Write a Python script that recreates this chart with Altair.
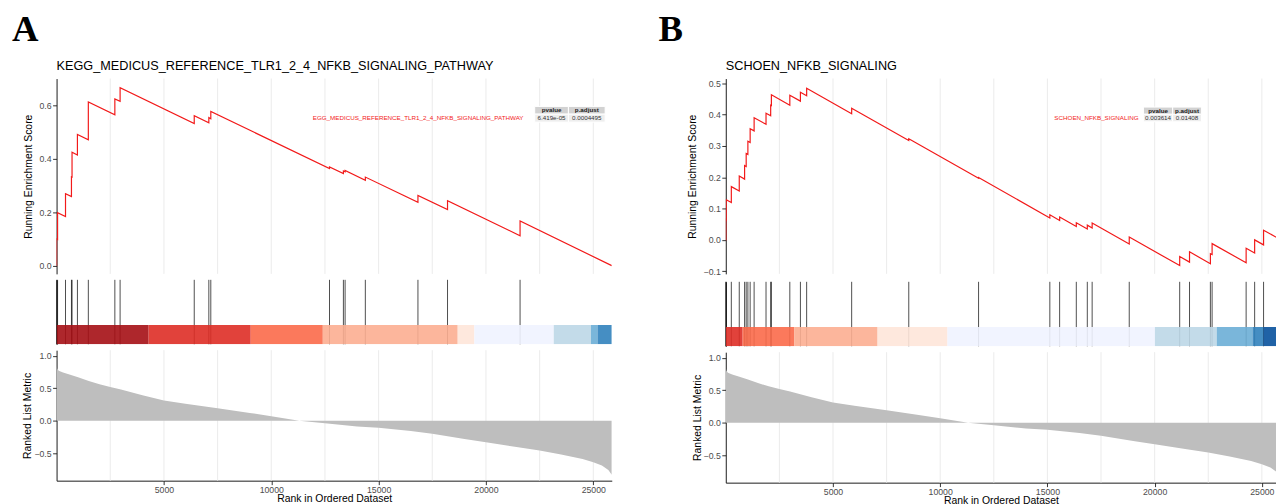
import altair as alt
import pandas as pd

FONT = "Liberation Sans"

# ---------------- shared data ----------------
N_GENES = 25860
X_MAX_A = 25860
X_MAX_B = 25660  # panel B is cut off at the right edge of the picture

grid_ranks = [2500, 5000, 7500, 10000, 12500, 15000, 17500, 20000, 22500, 25000]
rank_ticks = [5000, 10000, 15000, 20000, 25000]

# ranked list metric (same ordered gene list in both panels)
metric_rank = [1, 30, 100, 300, 600, 1000, 1500, 2000, 2500, 3000, 4000, 5000,
               6000, 7500, 9000, 10000, 11300, 12500, 14000, 15000, 16500, 17500,
               19000, 20000, 21500, 22500, 23500, 24500, 25000, 25400, 25700, 25860]
metric_value = [0.84, 0.80, 0.77, 0.74, 0.71, 0.67, 0.61, 0.56, 0.52, 0.48, 0.39, 0.31,
                0.26, 0.19, 0.12, 0.07, 0.0, -0.04, -0.09, -0.11, -0.16, -0.20,
                -0.28, -0.33, -0.41, -0.46, -0.52, -0.59, -0.64, -0.69, -0.76, -0.83]
metric_ticks = [-0.5, 0.0, 0.5, 1.0]

# ---------------- panel A ----------------
title_a = "KEGG_MEDICUS_REFERENCE_TLR1_2_4_NFKB_SIGNALING_PATHWAY"
label_a = "EGG_MEDICUS_REFERENCE_TLR1_2_4_NFKB_SIGNALING_PATHWAY"
pval_a = "6.419e-05"
padj_a = "0.0004495"
es_a_rank = [0, 1, 1, 46, 46, 416, 416, 693, 693, 720, 720, 971, 971, 1479, 1479,
             2714, 2714, 2959, 2959, 6412, 6412, 7092, 7092, 7184, 7184, 12713, 12713,
             13360, 13360, 13439, 13439, 14382, 14382, 16832, 16832, 18210, 18210,
             21589, 21589, 25860]
es_a_value = [0, 0, 0.100, 0.098, 0.198, 0.184, 0.270, 0.259, 0.333, 0.332, 0.425,
              0.415, 0.492, 0.472, 0.614, 0.566, 0.625, 0.616, 0.667, 0.533, 0.562,
              0.536, 0.555, 0.551, 0.578, 0.364, 0.370, 0.345, 0.355, 0.352, 0.357,
              0.320, 0.332, 0.237, 0.263, 0.210, 0.243, 0.112, 0.167, 0.0]
es_a_ticks = [0.0, 0.2, 0.4, 0.6]
hits_a = [1, 46, 416, 693, 720, 971, 1479, 2714, 2959, 6412, 7092, 7184, 12713,
          13360, 13439, 14382, 16832, 18210, 21589]
band_a_start = [0, 4286, 9043, 12400, 18683, 19459, 23158, 24892, 25197]
band_a_end = [4286, 9043, 12400, 18683, 19459, 23158, 24892, 25197, 25860]
band_a_color = ["#A50F15", "#DE2D26", "#FB6A4A", "#FCAE91", "#FEE5D9",
                "#EFF3FF", "#BDD7E7", "#6BAED6", "#3182BD"]

# ---------------- panel B ----------------
title_b = "SCHOEN_NFKB_SIGNALING"
label_b = "SCHOEN_NFKB_SIGNALING"
pval_b = "0.003614"
padj_b = "0.01408"
es_b_rank = [0, 5, 5, 20, 20, 259, 259, 629, 629, 878, 878, 952, 952, 1031, 1031,
             1137, 1137, 1322, 1322, 1877, 1877, 2094, 2094, 2127, 2127, 2987, 2987,
             3481, 3481, 3772, 3772, 5871, 5871, 8534, 8534, 11789, 11789, 15113, 15113,
             15570, 15570, 16347, 16347, 16860, 16860, 17086, 17086, 18816, 18816,
             21169, 21169, 21627, 21627, 22600, 22600, 22680, 22680, 24267, 24267,
             24664, 24664, 25080, 25080, 25860]
es_b_value = [0, 0, 0.065, 0.064, 0.128, 0.119, 0.170, 0.156, 0.204, 0.194, 0.237,
              0.234, 0.276, 0.273, 0.315, 0.311, 0.355, 0.348, 0.390, 0.369, 0.404,
              0.396, 0.430, 0.429, 0.463, 0.430, 0.462, 0.443, 0.471, 0.460, 0.484,
              0.403, 0.420, 0.317, 0.323, 0.197, 0.199, 0.070, 0.080, 0.062, 0.073,
              0.043, 0.055, 0.035, 0.047, 0.038, 0.054, -0.013, 0.009, -0.082, -0.053,
              -0.071, -0.038, -0.076, -0.044, -0.047, -0.012, -0.073, -0.027, -0.042,
              0.000, -0.016, 0.031, 0.001]
es_b_ticks = [-0.1, 0.0, 0.1, 0.2, 0.3, 0.4, 0.5]
hits_b = [5, 20, 259, 629, 878, 952, 1031, 1137, 1322, 1877, 2094, 2127, 2987, 3481,
          3772, 5871, 8534, 11789, 15113, 15570, 16347, 16860, 17086, 18816, 21169,
          21627, 22600, 22680, 24267, 24664, 25080]
band_b_start = [0, 786, 3190, 7078, 10337, 20013, 22898, 24563, 25071]
band_b_end = [786, 3190, 7078, 10337, 20013, 22898, 24563, 25071, 25860]
band_b_color = ["#DE2D26", "#FB6A4A", "#FCAE91", "#FEE5D9", "#EFF3FF",
                "#BDD7E7", "#6BAED6", "#3182BD", "#08519C"]

# table placement (data units of each ES panel): column edges in rank, row edges in ES
table_a = dict(xa=22270, xb=23841, xc=25552, ya=0.597, yb=0.568, yc=0.538, lx=21750)
table_b = dict(xa=19477, xb=20841, xc=22181, ya=0.424, yb=0.401, yc=0.377, lx=19250)


def make_panel(letter, title, es_rank, es_val, es_dom, es_ticks, hits,
               b_start, b_end, b_col, x_max, width, tcfg, label, pval, padj,
               es_tpad, rk_tpad, letter_dx):
    xs = alt.Scale(domain=[0, x_max], nice=False, zero=False)
    x_none = alt.X("rank:Q", scale=xs, axis=None)
    grid_df = pd.DataFrame({"rank": grid_ranks})

    # ---- running enrichment score ----
    es_y = alt.Y("val:Q", scale=alt.Scale(domain=es_dom, nice=False, zero=False),
                 axis=alt.Axis(values=es_ticks, format=".1f",
                               title="Running Enrichment Score", grid=False,
                               titlePadding=es_tpad))
    es_df = pd.DataFrame({"rank": es_rank, "val": es_val, "i": list(range(len(es_rank)))})
    grid = alt.Chart(grid_df).mark_rule(color="#EBEBEB", strokeWidth=1).encode(x=x_none)
    line = alt.Chart(es_df).mark_line(color="#F21A1A", strokeWidth=1.2, clip=True).encode(
        x=x_none, y=es_y, order="i:Q")

    t = tcfg
    cells = pd.DataFrame({
        "rank": [t["xa"], t["xb"], t["xa"], t["xb"]],
        "rank2": [t["xb"], t["xc"], t["xb"], t["xc"]],
        "val": [t["ya"], t["ya"], t["yb"], t["yb"]],
        "val2": [t["yb"], t["yb"], t["yc"], t["yc"]],
        "fill": ["#D2D2D2", "#D2D2D2", "#EEEEEE", "#EEEEEE"],
    })
    rects = alt.Chart(cells).mark_rect(stroke="white", strokeWidth=1).encode(
        x=x_none, x2="rank2:Q", y=es_y, y2="val2:Q", color=alt.Color("fill:N", scale=None))
    ymid_h = (t["ya"] + t["yb"]) / 2
    ymid_b = (t["yb"] + t["yc"]) / 2
    xm1 = (t["xa"] + t["xb"]) / 2
    xm2 = (t["xb"] + t["xc"]) / 2
    head_df = pd.DataFrame({"rank": [xm1, xm2], "val": [ymid_h, ymid_h],
                            "txt": ["pvalue", "p.adjust"]})
    body_df = pd.DataFrame({"rank": [xm1, xm2], "val": [ymid_b, ymid_b],
                            "txt": [pval, padj]})
    lab_df = pd.DataFrame({"rank": [t["lx"]], "val": [ymid_b], "txt": [label]})
    head = alt.Chart(head_df).mark_text(font=FONT, fontSize=6.3, fontWeight="bold",
                                        color="#1A1A1A").encode(x=x_none, y=es_y, text="txt:N")
    body = alt.Chart(body_df).mark_text(font=FONT, fontSize=6.3,
                                        color="#333333").encode(x=x_none, y=es_y, text="txt:N")
    lab = alt.Chart(lab_df).mark_text(font=FONT, fontSize=6.3, align="right",
                                      color="#F21A1A").encode(x=x_none, y=es_y, text="txt:N")
    es_chart = alt.layer(grid, line, rects, head, body, lab).properties(
        width=width, height=197,
        title=alt.TitleParams(title, anchor="start", frame="group", font=FONT,
                              fontSize=12.8, fontWeight="normal", color="black",
                              offset=5))

    # ---- hits + ranking colour band ----
    hy = alt.Scale(domain=[0, 1], nice=False, zero=False)
    hy_axis = alt.Axis(labels=False, ticks=False, title=None, grid=False, domain=True)
    hit_df = pd.DataFrame({"rank": hits})
    band_df = pd.DataFrame({"rank": b_start, "rank2": b_end, "col": b_col})
    hit_rules = alt.Chart(hit_df).mark_rule(color="black", strokeWidth=0.7).encode(
        x=x_none, y=alt.YDatum(0, type="quantitative", scale=hy, axis=hy_axis),
        y2=alt.Y2Datum(1))
    band = alt.Chart(band_df).mark_rect(opacity=0.9, clip=True).encode(
        x=x_none, x2="rank2:Q",
        y=alt.YDatum(0, type="quantitative", scale=hy, axis=hy_axis),
        y2=alt.Y2Datum(0.3), color=alt.Color("col:N", scale=None))
    hit_chart = alt.layer(hit_rules, band).properties(width=width, height=65)

    # ---- ranked list metric ----
    x_ax = alt.X("rank:Q", scale=xs,
                 axis=alt.Axis(values=rank_ticks, format="d", grid=False,
                               title="Rank in Ordered Dataset", titlePadding=0,
                               labelPadding=0.5))
    my = alt.Y("m:Q", scale=alt.Scale(domain=[-0.923, 1.085], nice=False, zero=False),
               axis=alt.Axis(values=metric_ticks, format=".1f", grid=False,
                             title="Ranked List Metric", titlePadding=rk_tpad))
    m_df = pd.DataFrame({"rank": metric_rank, "m": metric_value})
    grid2 = alt.Chart(grid_df).mark_rule(color="#EBEBEB", strokeWidth=1).encode(x=x_ax)
    area = alt.Chart(m_df).mark_area(color="#BEBEBE", clip=True).encode(
        x=x_ax, y=my, y2=alt.Y2Datum(0))
    ranked = alt.layer(grid2, area).properties(width=width, height=131.6)

    return alt.vconcat(es_chart, hit_chart, ranked, spacing=4).properties(
        title=alt.TitleParams(letter, anchor="start", font="Liberation Serif",
                              fontSize=37, fontWeight="bold", color="black",
                              baseline="alphabetic", dx=letter_dx, offset=-17))


panel_a = make_panel("A", title_a, es_a_rank, es_a_value, [-0.031, 0.7015], es_a_ticks,
                     hits_a, band_a_start, band_a_end, band_a_color, X_MAX_A, 560,
                     table_a, label_a, pval_a, padj_a, 6, 1, -11)
panel_b = make_panel("B", title_b, es_b_rank, es_b_value, [-0.1085, 0.515], es_b_ticks,
                     hits_b, band_b_start, band_b_end, band_b_color, X_MAX_B, 555,
                     table_b, label_b, pval_b, padj_b, 6, 1, -29)

chart = alt.hconcat(panel_a, panel_b, spacing=47).properties(
    padding={"left": 4, "top": 0, "right": 0, "bottom": 0}, background="white"
).configure_view(stroke=None).configure_axis(
    labelFont=FONT, titleFont=FONT, labelFontSize=8.8, labelColor="#4D4D4D",
    titleFontSize=10.5, titleFontWeight="normal", titleColor="black",
    domainColor="#1A1A1A", domainWidth=1, tickColor="#333333", tickSize=4,
    tickWidth=1, labelPadding=1.5
)

chart.save("out.html", embed_options={"renderer": "svg", "actions": False})
